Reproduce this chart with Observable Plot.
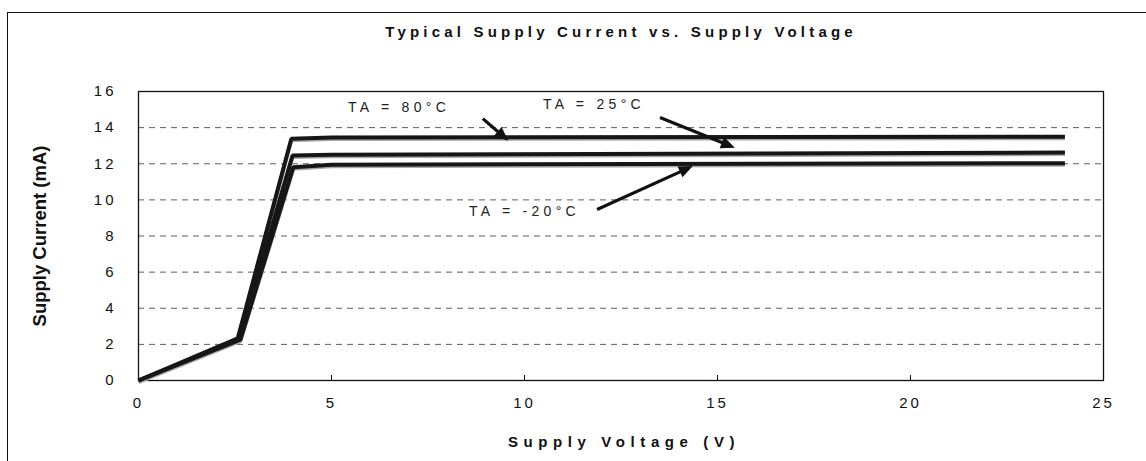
<!DOCTYPE html>
<html>
<head>
<meta charset="utf-8">
<script src="https://cdn.jsdelivr.net/npm/d3@7"></script>
<script src="https://cdn.jsdelivr.net/npm/@observablehq/plot@0.6"></script>
<style>
  html, body { margin: 0; padding: 0; background: #fff; overflow: hidden; }
  body { width: 1146px; height: 461px; position: relative; font-family: "Liberation Sans", Arial, sans-serif; }
  #frame { position: absolute; left: 7px; top: 12px; width: 1300px; height: 600px; border-left: 1.5px solid #111; border-top: 1.5px solid #111; }
  #title { position: absolute; top: 23px; left: 621px; transform: translateX(-50%); white-space: nowrap;
           font-size: 15px; font-weight: bold; letter-spacing: 4.2px; color: #111; }
  #chart { position: absolute; left: 0; top: 0; }
</style>
</head>
<body>
<div id="frame"></div>
<div id="title">Typical Supply Current vs. Supply Voltage</div>
<div id="chart"></div>
<script>
// Series (Supply Voltage V, Supply Current mA)
const volt80 = [0, 2.57, 3.96, 5, 24];
const curr80 = [0, 2.33, 13.38, 13.45, 13.5];
const volt25 = [0, 2.61, 3.99, 5, 24];
const curr25 = [0, 2.3, 12.45, 12.5, 12.62];
const voltM20 = [0, 2.64, 4.01, 5, 24];
const currM20 = [0, 2.26, 11.8, 11.95, 12.03];

// Tick values
const xTicks = [0, 5, 10, 15, 20, 25];
const yTicks = [0, 2, 4, 6, 8, 10, 12, 14, 16];
const gridTicks = [2, 4, 6, 8, 10, 12, 14];

// Annotations
const labelText = ["TA = 80°C", "TA = 25°C", "TA = -20°C"];
const labelX = [6.75, 11.8, 10.0];
const labelY = [15.12, 15.28, 9.36];
const arrowX1 = [8.92, 13.51, 11.88];
const arrowY1 = [14.5, 14.56, 9.47];
const arrowX2 = [9.58, 15.45, 14.36];
const arrowY2 = [13.28, 12.88, 11.87];

const W = 1146, H = 461, ML = 138, MR = 43, MT = 91, MB = 81;
const xDomain = [0, 25], yDomain = [0, 16];

const series = [
  {name: "80", v: volt80, c: curr80},
  {name: "25", v: volt25, c: curr25},
  {name: "-20", v: voltM20, c: currM20}
];
const lineData = series.flatMap(s => s.v.map((v, i) => ({series: s.name, v, c: s.c[i]})));
const labels = labelText.map((t, i) => ({t, x: labelX[i], y: labelY[i]}));

// library scales to orient the arrows in screen space
const sx = Plot.scale({x: {domain: xDomain, range: [ML, W - MR]}});
const sy = Plot.scale({y: {domain: yDomain, range: [H - MB, MT]}});
const arrows = arrowX1.map((x1, i) => {
  const px = sx.apply(arrowX2[i]) - sx.apply(x1);
  const py = sy.apply(arrowY2[i]) - sy.apply(arrowY1[i]);
  return {x1, y1: arrowY1[i], x2: arrowX2[i], y2: arrowY2[i],
          len: Math.hypot(px, py), ang: Math.atan2(px, -py) * 180 / Math.PI};
});

// filled arrow: shaft + solid triangular head, drawn pointing up (tip at -l)
const arrowShape = {
  draw(context, l) {
    const hl = 14, hw = 6, sw = 1.6;
    context.moveTo(-sw, 0);
    context.lineTo(-sw, -(l - hl));
    context.lineTo(-hw, -(l - hl));
    context.lineTo(0, -l);
    context.lineTo(hw, -(l - hl));
    context.lineTo(sw, -(l - hl));
    context.lineTo(sw, 0);
    context.closePath();
  }
};

function build(useVector) {
  const arrowMarks = useVector
    ? [Plot.vector(arrows, {x: "x2", y: "y2", length: "len", rotate: "ang", anchor: "end",
        shape: arrowShape, fill: "#111", stroke: "none"})]
    : [Plot.arrow(arrows, {x1: "x1", y1: "y1", x2: "x2", y2: "y2", stroke: "#111", strokeWidth: 3, headLength: 4, headAngle: 46})];
  return Plot.plot({
    width: W, height: H,
    marginLeft: ML, marginRight: MR, marginTop: MT, marginBottom: MB,
    style: {background: "transparent", fontFamily: "Liberation Sans, Arial, sans-serif", fontSize: "15px", color: "#111", overflow: "visible"},
    x: {domain: xDomain},
    y: {domain: yDomain},
    length: {type: "identity"},
    marks: [
      Plot.ruleY(gridTicks, {stroke: "#333", strokeWidth: 0.8, strokeDasharray: "6,5"}),
      Plot.axisY({ticks: yTicks, tickSize: 0, tickPadding: 22, label: null, fontSize: 15}),
      Plot.axisX({ticks: xTicks, tickSize: 0, tickPadding: 17, label: null, fontSize: 15}),
      Plot.axisX({ticks: xTicks.slice(1, 5), tickSize: -5, tickFormat: () => "", label: null, stroke: "#111"}),
      Plot.frame({stroke: "#111", strokeWidth: 1.3}),
      Plot.line(lineData, {x: "v", y: "c", z: "series", stroke: "#a8a8a8", strokeWidth: 4, dy: 1.5, strokeLinejoin: "miter", strokeLinecap: "butt"}),
      Plot.line(lineData, {x: "v", y: "c", z: "series", stroke: "#161616", strokeWidth: 4, strokeLinejoin: "miter", strokeLinecap: "butt"}),
      ...arrowMarks,
      Plot.text(labels, {x: "x", y: "y", text: "t", fontSize: 14, fill: "#222"}),
      Plot.text(["Supply Current (mA)"], {frameAnchor: "left", textAnchor: "middle", dx: -98, rotate: -90, fontSize: 18.5, fontWeight: "bold", fill: "#111"}),
      Plot.text(["Supply Voltage (V)"], {frameAnchor: "bottom", dx: 3, dy: 66, fontSize: 15, fontWeight: "bold", fill: "#111"})
    ]
  });
}

let chart;
try { chart = build(true); } catch (e) { chart = build(false); }

// letter spacing like the original's spaced-out lettering
const tickSet = new Set([...xTicks, ...yTicks].map(String));
d3.select(chart).selectAll("text").each(function () {
  const t = this.textContent;
  let ls = null;
  if (tickSet.has(t)) ls = "3px";
  else if (labelText.includes(t)) ls = "4.3px";
  else if (t === "Supply Voltage (V)") ls = "5.6px";
  if (ls) this.setAttribute("letter-spacing", ls);
});
document.getElementById("chart").appendChild(chart);
</script>
</body>
</html>
